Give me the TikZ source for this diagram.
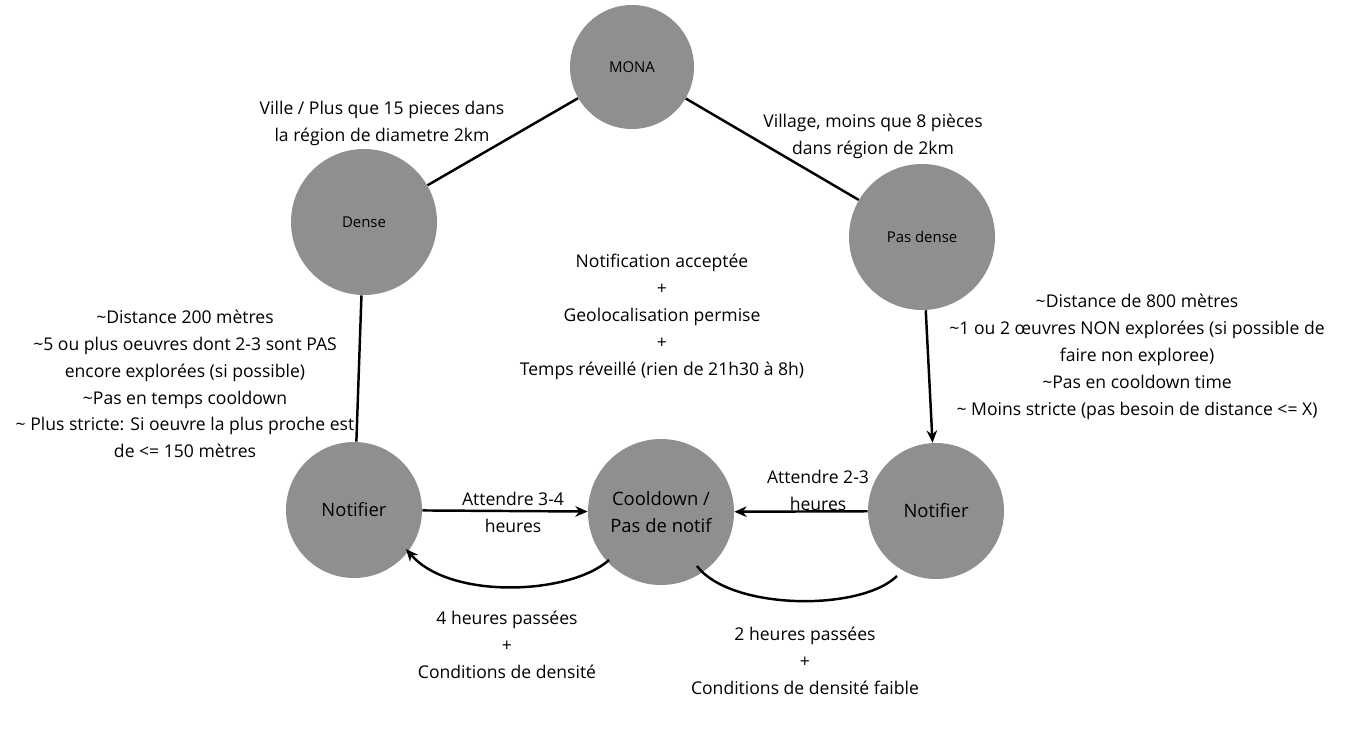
\documentclass[tikz,border=0pt]{standalone}
\usepackage{fontspec}
\setmainfont{Open Sans}
\usetikzlibrary{arrows.meta}

\tikzset{
	etat/.style={circle, fill=grisetat, draw=none, inner sep=0pt},
	grand/.style={etat, minimum size=146\unit},
	moyen/.style={etat, minimum size=136\unit},
	lien/.style={line width=1.4pt},
	fleche/.style={lien, -{Stealth[length=7pt,width=6pt]}},
	texte/.style={align=center, font=\fontsize{10}{15.3}\selectfont},
}
\definecolor{grisetat}{HTML}{8F8F8F}
\newlength{\unit}
\setlength{\unit}{0.02cm}

\begin{document}
\begin{tikzpicture}[x=0.02cm, y=-0.02cm]
	\useasboundingbox (0,0) rectangle (1365,730);
	
	\node[etat, minimum size=124\unit, font=\fontsize{8.5}{10}\selectfont] (mona) at (632,67) {MONA};
	\node[grand, font=\fontsize{8.5}{10}\selectfont] (dense) at (364,222) {Dense};
	\node[grand, font=\fontsize{8.5}{10}\selectfont] (pasdense) at (922,237) {Pas dense};
	\node[moyen, font=\fontsize{10.5}{12}\selectfont] (notifg) at (354,510) {Notifier};
	\node[grand, align=center, font=\fontsize{10.5}{15}\selectfont] (cooldown) at (661,512) {Cooldown /\\Pas de notif};
	\node[moyen, font=\fontsize{10.5}{12}\selectfont] (notifd) at (936,511) {Notifier};
	
	\coordinate (c1) at (609,560);
	\coordinate (c2) at (406,549);
	\coordinate (c3) at (897,576);
	\coordinate (c4) at (697,566);
	
	\draw[lien] (mona) -- (dense);
	\draw[lien] (mona) -- (pasdense);
	\draw[lien] (dense) -- (notifg);
	\draw[fleche] (pasdense) -- (notifd);
	\draw[fleche] (notifg) -- (cooldown);
	\draw[fleche] (notifd) -- (cooldown);
	\draw[fleche] (c1) .. controls (570,595) and (450,600) .. (c2);
	\draw[lien] (c3) .. controls (860,612) and (730,610) .. (c4);
	
	\node[texte] (lville) at (382,123) {Ville / Plus que 15 pieces dans\\la région de diametre 2km};
	\node[texte] (lvillage) at (873,136) {Village, moins que 8 pièces\\dans région de 2km};
	\node[texte] (lcentre) at (662,317) {Notification acceptée\\+\\Geolocalisation permise\\+\\Temps réveillé (rien de 21h30 à 8h)};
	\node[texte] (ldense) at (185,384) {\textasciitilde Distance 200 mètres\\\textasciitilde 5 ou plus oeuvres dont 2-3 sont PAS\\encore explorées (si possible)\\\textasciitilde Pas en temps cooldown\\\textasciitilde{} Plus stricte: Si oeuvre la plus proche est\\de <= 150 mètres};
	\node[texte] (lpasdense) at (1137,357) {\textasciitilde Distance de 800 mètres\\\textasciitilde 1 ou 2 œuvres NON explorées (si possible de\\faire non exploree)\\\textasciitilde Pas en cooldown time\\\textasciitilde{} Moins stricte (pas besoin de distance <= X)};
	\node[texte] (lattg) at (513,512) {Attendre 3-4\\heures};
	\node[texte] (lattd) at (818,490) {Attendre 2-3\\heures};
	\node[texte] (lretg) at (507,645) {4 heures passées\\+\\Conditions de densité};
	\node[texte] (lretd) at (805,661) {2 heures passées\\+\\Conditions de densité faible};
\end{tikzpicture}
\end{document}
